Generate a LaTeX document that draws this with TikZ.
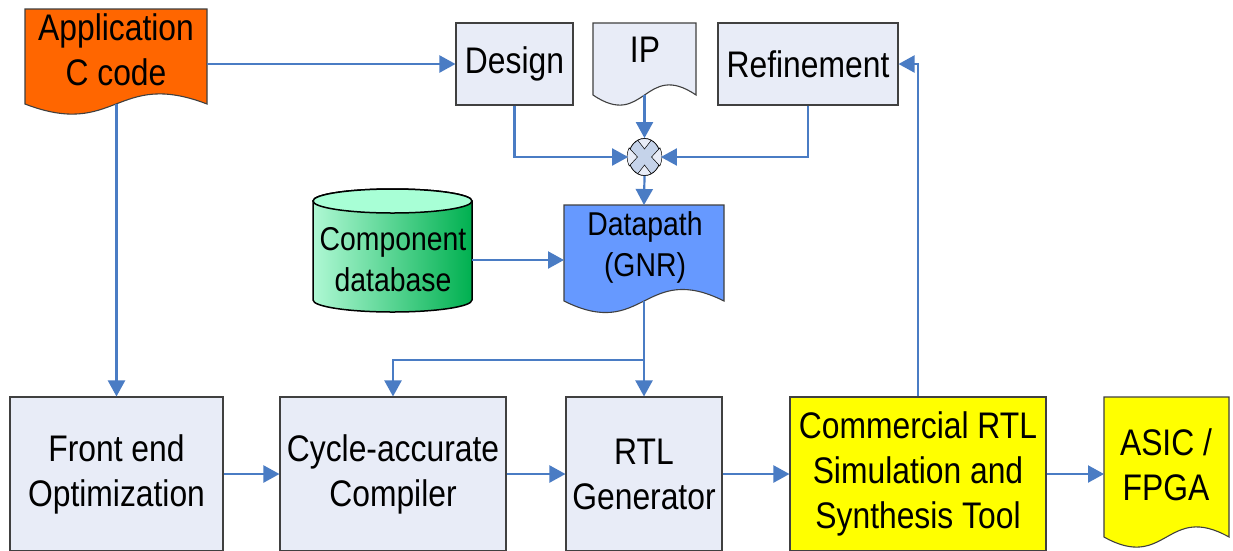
\documentclass[tikz,border=0pt]{standalone}
\usepackage{fontspec}
\setmainfont[FakeStretch=0.86]{Liberation Sans}
\usetikzlibrary{arrows.meta,shapes.geometric,calc}

\definecolor{boxfill}{RGB}{232,236,247}
\definecolor{flow}{RGB}{74,124,196}
\definecolor{edge}{RGB}{64,64,64}
\definecolor{appfill}{RGB}{255,102,0}
\definecolor{gnrblue}{RGB}{102,153,255}
\definecolor{junction}{RGB}{197,211,234}
\definecolor{cylL}{RGB}{175,248,212}
\definecolor{cylR}{RGB}{0,176,80}
\definecolor{cyltop}{RGB}{168,255,214}
\definecolor{asicyellow}{RGB}{255,255,0}

\newcommand\diagfont{\fontsize{37pt}{45pt}\selectfont}
\newcommand\smallfont{\fontsize{33pt}{41pt}\selectfont}

% document shape with a wavy bottom edge: fill, x-left, top, x-right, bottom, wave control
\newcommand\wavedoc[6]{%
  \filldraw[draw=edge,line width=1.1pt,fill=#1]
    (#2,#3) -- (#4,#3) -- (#4,#5)
    .. controls ({(#2+#4)/2},{#5-#6}) and ({(#2+#4)/2},{#5+#6}) .. (#2,#5) -- cycle;}

\begin{document}
\begin{tikzpicture}[x=1pt,y=-1pt,
  box/.style={draw=edge,line width=1.1pt,fill=boxfill,inner sep=0pt,align=center,font=\diagfont},
  lbl/.style={inner sep=0pt,align=center,font=\diagfont},
  frame/.style={inner sep=0pt,outer sep=0pt},
  arr/.style={draw=flow,line width=2.2pt,-{Triangle[length=16pt,width=17pt]}},
  flowline/.style={draw=flow,line width=2.2pt}]
\useasboundingbox (0,0) rectangle (1233,550);
\clip (0,0) rectangle (1233,550);
\fill[white] (0,0) rectangle (1233,550);

% ---- document shapes ----
\wavedoc{appfill}{25}{9}{207}{104}{35}
\node[frame,minimum width=182pt,minimum height=95pt] (app) at (116,56.5) {};
\node[lbl] (applbl) at (116,50) {Application\\C code};

\wavedoc{boxfill}{593}{23}{696}{95}{35}
\node[frame,minimum width=103pt,minimum height=72pt] (ip) at (644.5,59) {};
\node[lbl] (iplbl) at (645,50) {IP};

\wavedoc{gnrblue}{564}{205}{724}{301}{40}
\node[frame,minimum width=160pt,minimum height=96pt] (gnr) at (644,253) {};
\node[lbl,font=\smallfont] (gnrlbl) at (645,247) {Datapath\\(GNR)};

\wavedoc{asicyellow}{1104}{397}{1229}{537}{35}
\node[frame,minimum width=125pt,minimum height=140pt] (asic) at (1166.5,467) {};
\node[lbl] (asiclbl) at (1166,465) {ASIC /\\FPGA};

% ---- component database cylinder ----
\shade[left color=cylL,right color=cylR,draw=black,line width=1.5pt]
  (313,201) -- (313,300) arc[start angle=180,end angle=0,x radius=79.5,y radius=12]
  -- (472,201) arc[start angle=0,end angle=-180,x radius=79.5,y radius=12] -- cycle;
\draw[fill=cyltop,draw=black,line width=1.5pt] (392.5,201) ellipse[x radius=79.5,y radius=12];
\node[frame,minimum width=159pt,minimum height=123pt] (comp) at (392.5,250.5) {};
\node[lbl,font=\smallfont] (complbl) at (393,260) {Component\\database};

% ---- process boxes ----
\node[box,minimum width=117pt,minimum height=82pt] (design) at (514.5,64) {Design};
\node[box,minimum width=180pt,minimum height=82pt] (refine) at (808,64) {Refinement};
\node[box,minimum width=213pt,minimum height=154pt] (front) at (116.5,474) {Front end\\Optimization};
\node[box,minimum width=226pt,minimum height=154pt] (cyc) at (393,474) {Cycle-accurate\\Compiler};
\node[box,minimum width=156pt,minimum height=154pt] (rtl) at (644,474) {RTL\\Generator};
\node[box,fill=asicyellow,minimum width=256pt,minimum height=154pt] (comm) at (918,474) {Commercial RTL\\Simulation and\\Synthesis Tool};

% ---- junction: ellipse with four notches forming an X ----
\node[ellipse,draw=black,line width=0.8pt,fill=junction,minimum width=32pt,minimum height=37pt,inner sep=0pt] (junc) at (644.5,157) {};
\begin{scope}[draw=black,line width=0.5pt,fill=boxfill]
  \filldraw (637.8,140.3) -- (644.5,149) -- (651.2,140.3) arc[start angle=-65,end angle=-115,x radius=16,y radius=18.5];
  \filldraw (637.8,173.7) -- (644.5,165) -- (651.2,173.7) arc[start angle=65,end angle=115,x radius=16,y radius=18.5];
  \filldraw (629.2,148) -- (637.5,157) -- (629.2,166) arc[start angle=150,end angle=210,x radius=16,y radius=18.5];
  \filldraw (659.8,148) -- (651.5,157) -- (659.8,166) arc[start angle=30,end angle=-30,x radius=16,y radius=18.5];
\end{scope}

% ---- connectors ----
\coordinate (split) at (644,360);
\draw[arr] (app.east |- design.west) -- (design.west);
\draw[arr] (app.south -| front.north) -- (front.north);
\draw[arr] (ip.south) -- (junc.north);
\draw[arr] (design.south) |- (junc.west);
\draw[arr] (refine.south) |- (junc.east);
\draw[arr] (junc.south) -- (gnr.north);
\draw[arr] (comp.east |- complbl) -- (gnr.west |- complbl);
\draw[flowline] (gnr.south) -- (split);
\draw[arr] (split) -| (cyc.north);
\draw[arr] (split) -- (rtl.north);
\draw[arr] (front.east) -- (cyc.west);
\draw[arr] (cyc.east) -- (rtl.west);
\draw[arr] (rtl.east) -- (comm.west);
\draw[arr] (comm.east) -- (asic.west |- comm.east);
\draw[arr] (comm.north) |- (refine.east);
\end{tikzpicture}
\end{document}
